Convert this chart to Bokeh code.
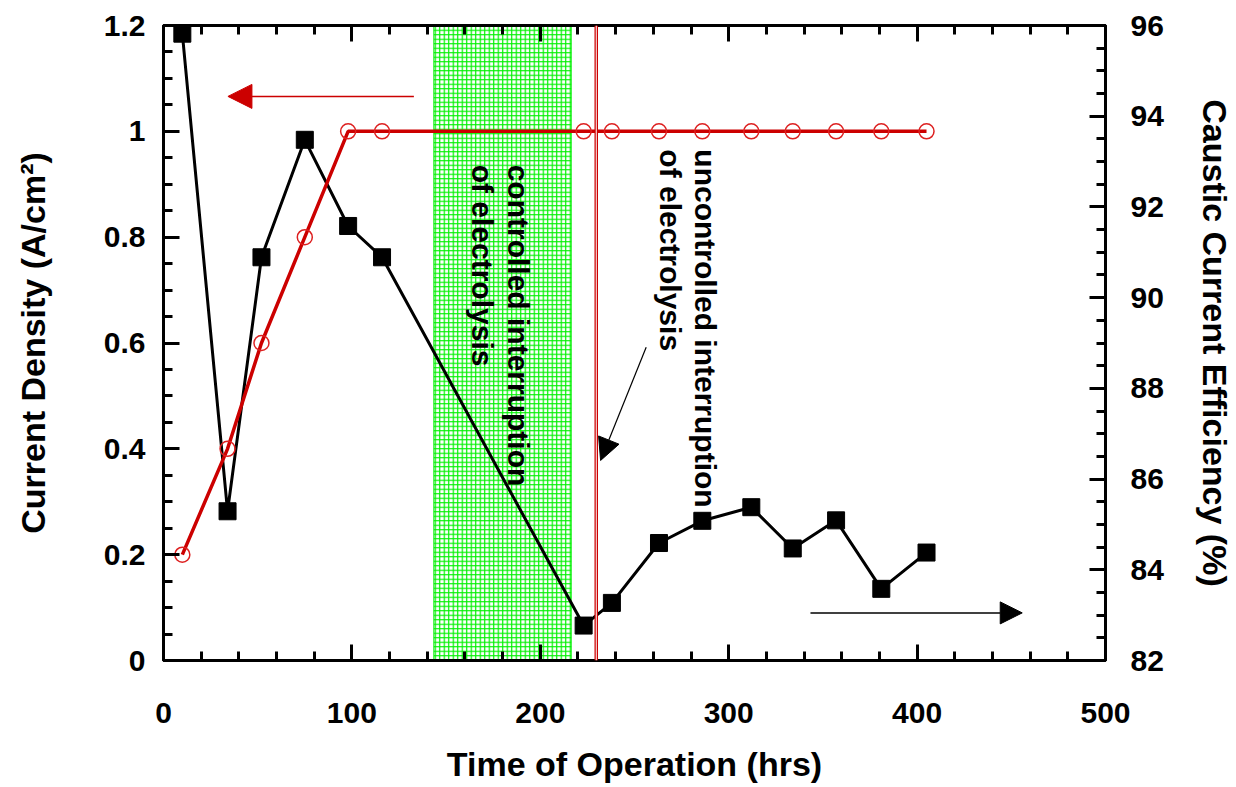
import math
from bokeh.plotting import figure
from bokeh.models import (Range1d, LinearAxis, FixedTicker,
                          CustomJSTickFormatter, Arrow, NormalHead, Span)
from bokeh.core.properties import value
from bokeh.embed import file_html
from bokeh.resources import INLINE

# ---------------- data ----------------
time_hrs = [10, 34, 52, 75, 98, 116, 223, 238, 263, 286, 312, 334, 357, 381, 405]
current_density = [0.2, 0.4, 0.6, 0.8, 1.0, 1.0, 1.0, 1.0, 1.0, 1.0, 1.0, 1.0, 1.0, 1.0, 1.0]
caustic_efficiency = [95.82, 85.29, 90.89, 93.48, 91.58, 90.89, 82.77, 83.27, 84.59,
                      85.08, 85.38, 84.47, 85.09, 83.58, 84.38]

cd_ticks = [0, 0.2, 0.4, 0.6, 0.8, 1.0, 1.2]
cce_ticks = [82, 84, 86, 88, 90, 92, 94, 96]
time_ticks = [0, 100, 200, 300, 400, 500]

controlled_interruption = [143.5, 216.4]   # hrs (start, end)
uncontrolled_interruption = 229.7          # hrs

note_lines = ["controlled interruption", "of electrolysis",
              "uncontrolled interruption", "of electrolysis"]
note_x = [188.2, 169.2, 287.5, 269.0]
note_y = [0.937, 0.937, 0.966, 0.966]

# arrows: (x_start, y_start, x_end, y_end) in (hrs, A/cm2)
arrow_cd = [132.9, 1.066, 34.2, 1.066]
arrow_cce = [343.4, 0.090, 455.8, 0.090]
arrow_event = [256.2, 0.592, 232.0, 0.378]

x_label = "Time of Operation (hrs)"
y_left_label = "Current Density (A/cm²)"
y_right_label = "Caustic Current Efficiency (%)"

FONT = "Liberation Sans"
RED = "#cc0000"

p = figure(width=1236, height=787, output_backend="svg", toolbar_location=None,
           x_range=Range1d(0, 500), y_range=Range1d(0, 1.2),
           min_border_left=163, min_border_right=131, min_border_top=25, min_border_bottom=127)
p.extra_y_ranges = {"cce": Range1d(82, 96)}
p.xgrid.visible = False
p.ygrid.visible = False
p.outline_line_color = "black"
p.outline_line_width = 3
p.background_fill_color = "white"
p.border_fill_color = "white"


def minor_between(ticks, n):
    out = []
    for a, b in zip(ticks[:-1], ticks[1:]):
        step = (b - a) / n
        out += [a + step * k for k in range(1, n)]
    return out


def style(ax, ticker):
    ax.ticker = ticker
    ax.axis_line_width = 3
    ax.axis_line_color = "black"
    ax.major_tick_in = 16
    ax.major_tick_out = 0
    ax.minor_tick_in = 9
    ax.minor_tick_out = 0
    ax.major_tick_line_width = 3
    ax.minor_tick_line_width = 3
    ax.major_tick_line_color = "black"
    ax.minor_tick_line_color = "black"
    ax.major_label_text_font = FONT
    ax.major_label_text_font_style = "bold"
    ax.major_label_text_color = "black"
    ax.major_label_text_font_size = "30px"
    ax.axis_label_text_font = FONT
    ax.axis_label_text_font_style = "bold"
    ax.axis_label_text_font_size = "34px"
    ax.axis_label_text_color = "black"


fmt = CustomJSTickFormatter(code="return String(Number(tick.toFixed(2)));")

xa = p.xaxis[0]
style(xa, FixedTicker(ticks=time_ticks, minor_ticks=minor_between(time_ticks, 5)))
xa.axis_label = x_label
xa.major_label_standoff = 42
xa.axis_label_standoff = 19

ya = p.yaxis[0]
style(ya, FixedTicker(ticks=cd_ticks, minor_ticks=minor_between(cd_ticks, 4)))
ya.formatter = fmt
ya.axis_label = y_left_label
ya.major_label_standoff = 18
ya.axis_label_standoff = 49

top = LinearAxis()
style(top, FixedTicker(ticks=time_ticks, minor_ticks=minor_between(time_ticks, 5)))
top.formatter = CustomJSTickFormatter(code="return '';")
top.major_label_standoff = 0
p.add_layout(top, "above")

ra = LinearAxis(y_range_name="cce")
style(ra, FixedTicker(ticks=cce_ticks, minor_ticks=minor_between(cce_ticks, 4)))
ra.axis_label = y_right_label
ra.major_label_standoff = 25
ra.axis_label_standoff = 29
p.add_layout(ra, "right")

# hatched region: controlled interruption
p.quad(left=[controlled_interruption[0]], right=[controlled_interruption[1]],
       bottom=[0], top=[1.2], fill_color="white", fill_alpha=1.0,
       hatch_pattern="+", hatch_color="#00f000", hatch_scale=4.5, hatch_weight=1.2,
       line_color="#00f000", line_width=1)

# caustic current efficiency (right axis)
p.line(time_hrs, caustic_efficiency, y_range_name="cce", line_color="black", line_width=3)
p.scatter(time_hrs, caustic_efficiency, y_range_name="cce", marker="square", size=17,
          fill_color="black", line_color="black")

# current density (left axis)
p.line(time_hrs, current_density, line_color=RED, line_width=3.5)
p.scatter(time_hrs, current_density, marker="circle", size=15, fill_color=None,
          line_color="#dd2020", line_width=1.5)

# rotated notes
for t, xx, yy in zip(note_lines, note_x, note_y):
    p.text(x=[xx], y=[yy], text=[t], angle=-math.pi / 2, text_align="left",
           text_baseline="middle", text_font=value(FONT), text_font_style="bold",
           text_font_size="30px", text_color="black")

# uncontrolled interruption marker
p.add_layout(Span(location=uncontrolled_interruption, dimension="height",
                  line_color=RED, line_width=3.5))
p.add_layout(Span(location=uncontrolled_interruption, dimension="height",
                  line_color="white", line_width=1))

# arrows
p.add_layout(Arrow(end=NormalHead(size=24, fill_color=RED, line_color=RED),
                   x_start=arrow_cd[0], y_start=arrow_cd[1], x_end=arrow_cd[2], y_end=arrow_cd[3],
                   line_color=RED, line_width=1.5))
p.add_layout(Arrow(end=NormalHead(size=22, fill_color="black", line_color="black"),
                   x_start=arrow_cce[0], y_start=arrow_cce[1], x_end=arrow_cce[2], y_end=arrow_cce[3],
                   line_color="black", line_width=1.5))
p.add_layout(Arrow(end=NormalHead(size=22, fill_color="black", line_color="black"),
                   x_start=arrow_event[0], y_start=arrow_event[1], x_end=arrow_event[2], y_end=arrow_event[3],
                   line_color="black", line_width=1.2))

open("out.html", "w").write(file_html(p, INLINE))
